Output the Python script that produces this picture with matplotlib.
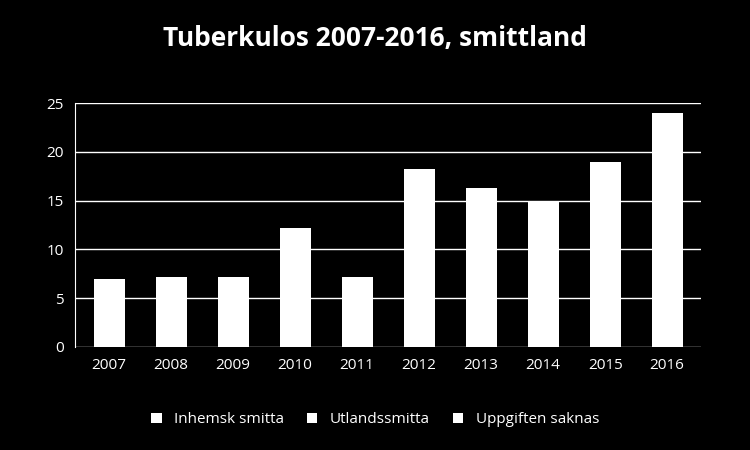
import matplotlib
matplotlib.use("Agg")
import matplotlib.pyplot as plt
import numpy as np

years = ["2007","2008","2009","2010","2011","2012","2013","2014","2015","2016"]
inhemsk = [0,0,0,0,0,0,0,0,0,0]
utlands = [7,7.2,7.2,12.2,7.2,18.2,16.3,15,19,24]
saknas = [0,0,0,0,0,0,0,0,0,0]
yticks = [0,5,10,15,20,25]

plt.rcParams["font.family"] = "Open Sans"
fig = plt.figure(figsize=(7.5,4.5), dpi=100, facecolor="black")
ax = fig.add_axes([0.1,0.229,0.835,0.542], facecolor="black")
x = np.arange(len(years))
w = 0.5
b1 = ax.bar(x, inhemsk, w, color="white", label="Inhemsk smitta", zorder=3)
b2 = ax.bar(x, utlands, w, bottom=inhemsk, color="white", label="Utlandssmitta", zorder=3)
b3 = ax.bar(x, saknas, w, bottom=np.add(inhemsk, utlands), color="white", label="Uppgiften saknas", zorder=3)
ax.set_ylim(0,25)
ax.set_yticks(yticks)
ax.set_xlim(-0.55, len(years)-0.45)
ax.set_xticks(x)
ax.set_xticklabels(years)
ax.grid(axis="y", color="white", linewidth=1, zorder=0)
for s in ax.spines.values():
    s.set_visible(False)
ax.spines["left"].set_visible(True)
ax.spines["left"].set_color("white")
ax.tick_params(colors="white", labelsize=11, length=0, pad=8)
fig.suptitle("Tuberkulos 2007-2016, smittland", color="white", fontsize=19, fontweight="bold", y=0.945)
leg = fig.legend(loc="lower center", bbox_to_anchor=(0.5,0.02), ncol=3, frameon=False,
                 labelcolor="white", fontsize=11, handlelength=0.7, handleheight=0.7, columnspacing=1.5)
fig.savefig("out.png", facecolor="black")
